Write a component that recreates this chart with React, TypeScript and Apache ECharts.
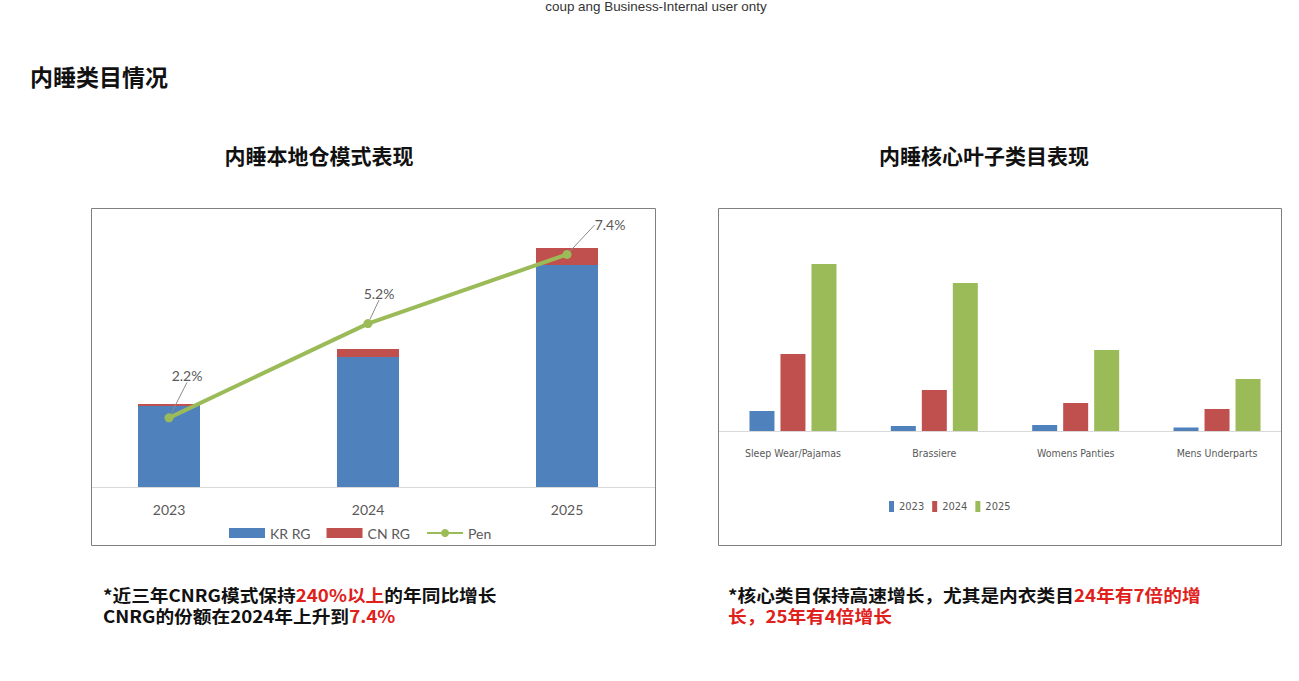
import { useEffect, useRef } from 'react';
import * as echarts from 'echarts';

// left chart: local-warehouse mode
const YEARS = ['2023', '2024', '2025'];
const KR_RG = [81, 130, 222];
const CN_RG = [2, 8, 17];
const PEN = [2.2, 5.2, 7.4];
const PEN_LABEL_DX = [18, 11, 43];
const PEN_LABEL_DY = [-26, -14, -13];

// right chart: core leaf categories
const LEAF_CATS = ['Sleep Wear/Pajamas', 'Brassiere', 'Womens Panties', 'Mens Underparts'];
const LEAF_2023 = [20, 5, 6, 3.5];
const LEAF_2024 = [77, 41, 28, 22];
const LEAF_2025 = [167, 148, 81, 52];

const BLUE = '#4F81BD';
const RED = '#C0504D';
const GREEN = '#9BBB59';
const GREY_TEXT = '#595959';
const CHART_FONT = "Lato, 'Open Sans', sans-serif";
const NARROW_FONT = "'Liberation Sans Narrow', 'DejaVu Sans Condensed', sans-serif";
const CJK_FONT = "'Noto Sans CJK SC', sans-serif";

export default function App() {
  const chartRef = useRef<HTMLDivElement>(null);

  useEffect(() => {
    if (!chartRef.current) return;
    const chart = echarts.init(chartRef.current, undefined, { renderer: 'svg' });

    const noteRich = {
      a: { fontFamily: CJK_FONT, fontSize: 17, fontWeight: 'bold', fill: '#111' },
      r: { fontFamily: CJK_FONT, fontSize: 17, fontWeight: 'bold', fill: '#E0201B' },
    };
    const note = (x: number, y: number, text: string) => ({
      type: 'text',
      x,
      y,
      scaleX: 1.1,
      style: { text, rich: noteRich, verticalAlign: 'middle' } as any,
    });

    const option: echarts.EChartsOption = {
      animation: false,
      backgroundColor: '#fff',
      grid: [
        { left: 69.5, right: 632.5, top: 212, bottom: 194 },
        { left: 722.3, right: 11.3, top: 231, bottom: 250 },
      ],
      xAxis: [
        {
          type: 'category',
          gridIndex: 0,
          data: YEARS,
          axisLine: { show: false },
          axisTick: { show: false },
          axisLabel: { color: GREY_TEXT, fontSize: 14, margin: 15, fontFamily: CHART_FONT },
        },
        {
          type: 'category',
          gridIndex: 1,
          data: LEAF_CATS,
          axisLine: { show: false },
          axisTick: { show: false },
          axisLabel: { color: GREY_TEXT, fontSize: 10.5, margin: 16, interval: 0, fontFamily: NARROW_FONT },
        },
      ],
      yAxis: [
        { type: 'value', gridIndex: 0, min: 0, max: 275, show: false },
        { type: 'value', gridIndex: 0, min: 0, max: 8.75, show: false },
        { type: 'value', gridIndex: 1, min: 0, max: 200, show: false },
      ],
      legend: [
        {
          data: [
            { name: 'KR RG', icon: 'rect' },
            { name: 'CN RG', icon: 'rect' },
            { name: 'Pen' },
          ],
          left: 224,
          top: 521,
          itemWidth: 36,
          itemHeight: 10,
          itemGap: 16,
          selectedMode: false,
          textStyle: { color: GREY_TEXT, fontSize: 14, fontFamily: CHART_FONT },
        },
        {
          data: [
            { name: '2023', icon: 'rect' },
            { name: '2024', icon: 'rect' },
            { name: '2025', icon: 'rect' },
          ],
          left: 884,
          top: 496,
          itemWidth: 5,
          itemHeight: 11,
          itemGap: 8,
          selectedMode: false,
          textStyle: { color: GREY_TEXT, fontSize: 11, fontFamily: NARROW_FONT },
        },
      ],
      series: [
        {
          name: 'KR RG',
          type: 'bar',
          stack: 'rg',
          xAxisIndex: 0,
          yAxisIndex: 0,
          data: KR_RG,
          barWidth: 62,
          itemStyle: { color: BLUE },
        },
        {
          name: 'CN RG',
          type: 'bar',
          stack: 'rg',
          xAxisIndex: 0,
          yAxisIndex: 0,
          data: CN_RG,
          barWidth: 62,
          itemStyle: { color: RED },
        },
        {
          name: 'Pen',
          type: 'line',
          xAxisIndex: 0,
          yAxisIndex: 1,
          data: PEN,
          symbol: 'circle',
          symbolSize: 9,
          z: 5,
          lineStyle: { width: 4, color: GREEN },
          itemStyle: { color: GREEN },
          label: {
            show: true,
            position: 'top',
            formatter: (p: any) => p.value.toFixed(1) + '%',
            color: GREY_TEXT,
            fontSize: 14,
            fontFamily: CHART_FONT,
          },
          labelLayout: (p: any) => ({ dx: PEN_LABEL_DX[p.dataIndex], dy: PEN_LABEL_DY[p.dataIndex] }),
          labelLine: { show: true, lineStyle: { color: '#8c8c8c', width: 1 } },
        },
        {
          name: '2023',
          type: 'bar',
          xAxisIndex: 1,
          yAxisIndex: 2,
          data: LEAF_2023,
          barWidth: 25,
          barGap: '24%',
          itemStyle: { color: BLUE },
        },
        {
          name: '2024',
          type: 'bar',
          xAxisIndex: 1,
          yAxisIndex: 2,
          data: LEAF_2024,
          barWidth: 25,
          barGap: '24%',
          itemStyle: { color: RED },
        },
        {
          name: '2025',
          type: 'bar',
          xAxisIndex: 1,
          yAxisIndex: 2,
          data: LEAF_2025,
          barWidth: 25,
          barGap: '24%',
          itemStyle: { color: GREEN },
        },
      ],
      graphic: [
        {
          type: 'text',
          x: 656,
          y: 7,
          scaleX: 1.1,
          style: {
            text: 'coup ang Business-Internal user onty',
            fontFamily: "'Liberation Sans', Arial, sans-serif",
            fontSize: 12.2,
            fill: '#333',
            align: 'center',
            verticalAlign: 'middle',
          },
        },
        {
          type: 'text',
          x: 30,
          y: 76,
          style: {
            text: '内睡类目情况',
            fontFamily: CJK_FONT,
            fontSize: 23,
            fontWeight: 'bold',
            fill: '#111',
            verticalAlign: 'middle',
          },
        },
        {
          type: 'text',
          x: 319,
          y: 155,
          style: {
            text: '内睡本地仓模式表现',
            fontFamily: CJK_FONT,
            fontSize: 21,
            fontWeight: 'bold',
            fill: '#111',
            align: 'center',
            verticalAlign: 'middle',
          },
        },
        {
          type: 'text',
          x: 984,
          y: 155,
          style: {
            text: '内睡核心叶子类目表现',
            fontFamily: CJK_FONT,
            fontSize: 21,
            fontWeight: 'bold',
            fill: '#111',
            align: 'center',
            verticalAlign: 'middle',
          },
        },
        {
          type: 'rect',
          shape: { x: 91.5, y: 208.5, width: 564, height: 337 },
          style: { fill: 'none', stroke: '#808080', lineWidth: 1 },
          z: -1,
        },
        {
          type: 'rect',
          shape: { x: 718.5, y: 208.5, width: 563, height: 337 },
          style: { fill: 'none', stroke: '#808080', lineWidth: 1 },
          z: -1,
        },
        {
          type: 'line',
          shape: { x1: 92, y1: 487.5, x2: 655, y2: 487.5 },
          style: { stroke: '#d9d9d9', lineWidth: 1 },
        },
        {
          type: 'line',
          shape: { x1: 719, y1: 431.5, x2: 1281, y2: 431.5 },
          style: { stroke: '#d9d9d9', lineWidth: 1 },
        },
        note(103, 594, '{a|*近三年CNRG模式保持}{r|240%以上}{a|的年同比增长}'),
        note(103, 615, '{a|CNRG的份额在2024年上升到}{r|7.4%}'),
        note(728, 594, '{a|*核心类目保持高速增长，尤其是内衣类目}{r|24年有7倍的增}'),
        note(728, 615, '{r|长，25年有4倍增长}'),
      ] as any,
    };

    chart.setOption(option);

    return () => {
      chart.dispose();
    };
  }, []);

  return (
    <div
      ref={chartRef}
      style={{ position: 'absolute', left: 0, top: 0, width: 1299, height: 681, background: '#fff' }}
    />
  );
}
